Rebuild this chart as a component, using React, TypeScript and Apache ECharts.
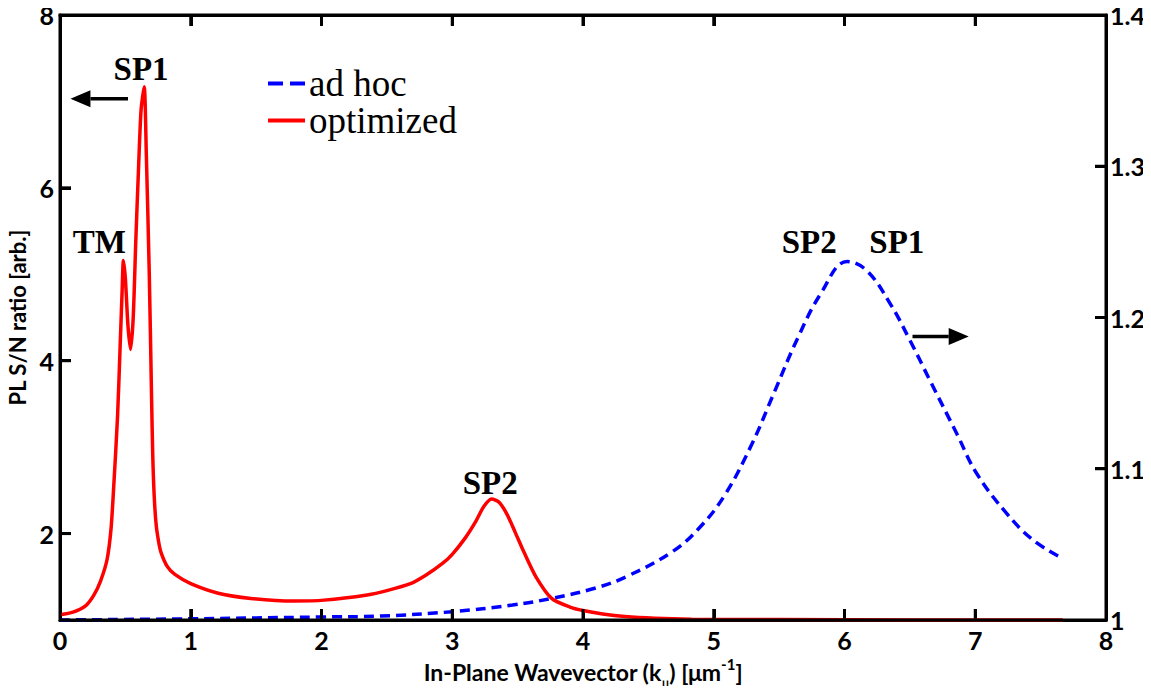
import React, { useEffect, useRef } from "react";
import * as echarts from "echarts";

// optimized (left axis) – in-plane wavevector k (µm^-1) and PL S/N ratio
const redK = [0, 0.1, 0.2, 0.26, 0.31, 0.36, 0.39, 0.41, 0.44, 0.46, 0.475, 0.485, 0.5, 0.52, 0.54, 0.56, 0.58, 0.6, 0.62, 0.644, 0.66, 0.683, 0.7, 0.709, 0.72, 0.735, 0.755, 0.773, 0.82, 0.876, 1.0, 1.21, 1.46, 1.79, 2.02, 2.35, 2.5, 2.68, 2.8, 2.93, 3.0, 3.1, 3.18, 3.24, 3.3, 3.36, 3.42, 3.48, 3.55, 3.64, 3.76, 3.9, 4.0, 4.15, 4.32, 4.55, 4.83, 5.5, 6.5, 7.67];
const redV = [1.06, 1.09, 1.17, 1.29, 1.45, 1.7, 2.05, 2.52, 3.35, 4.17, 4.8, 5.16, 4.95, 4.4, 4.13, 4.5, 5.4, 6.2, 6.9, 7.17, 6.4, 4.99, 3.6, 2.93, 2.45, 2.11, 1.9, 1.78, 1.62, 1.53, 1.42, 1.31, 1.25, 1.22, 1.23, 1.29, 1.34, 1.42, 1.52, 1.66, 1.76, 1.95, 2.14, 2.31, 2.4, 2.36, 2.22, 2.02, 1.78, 1.5, 1.25, 1.15, 1.11, 1.07, 1.04, 1.02, 1.01, 1.005, 1.0, 1.0];

// ad hoc (right axis)
const blueK = [0, 1, 2, 2.45, 3, 3.46, 3.76, 4.09, 4.34, 4.68, 4.88, 5.08, 5.29, 5.46, 5.64, 5.82, 6.02, 6.17, 6.35, 6.5, 6.65, 6.86, 7.01, 7.24, 7.44, 7.64];
const blueV = [1.0, 1.0008, 1.002, 1.0026, 1.0055, 1.0099, 1.0143, 1.021, 1.029, 1.045, 1.06, 1.082, 1.116, 1.15, 1.186, 1.216, 1.237, 1.231, 1.209, 1.185, 1.159, 1.123, 1.097, 1.0705, 1.053, 1.042];

// axis ticks
const xInnerTicks = [1, 2, 3, 4, 5, 6, 7];
const leftLabels = [2, 4, 6, 8];
const leftTicks = [2, 4, 6];
const rightTicks = [1.1, 1.2, 1.3];

const seriesNames = ["ad hoc", "optimized"];

// annotations (data coordinates on bottom / left axes)
const annotations = [
  { text: "SP1", k: 0.62, v: 7.38 },
  { text: "TM", k: 0.3, v: 5.37 },
  { text: "SP2", k: 3.29, v: 2.58 },
  { text: "SP2", k: 5.73, v: 5.37 },
  { text: "SP1", k: 6.4, v: 5.37 },
];
const arrows = [
  { fromK: 0.52, toK: 0.08, v: 7.03 },
  { fromK: 6.52, toK: 6.95, v: 4.28 },
];

const SANS = "Lato";
const SERIF = "Liberation Serif";

export default function App() {
  const ref = useRef<HTMLDivElement>(null);
  useEffect(() => {
    if (!ref.current) return;
    const chart = echarts.init(ref.current, null, { renderer: "svg" });
    const mkLine = () => ({ show: true, onZero: false, lineStyle: { color: "#000", width: 3 } });
    const mkTick = () => ({ show: true, inside: true, length: 11, lineStyle: { color: "#000", width: 3 } });
    const label = { color: "#000", fontFamily: SANS, fontWeight: "bold", fontSize: 25 };
    chart.setOption({
      animation: false,
      grid: { left: 60, right: 45, top: 15, bottom: 74, outerBoundsMode: "none" },
      legend: {
        orient: "vertical",
        left: 263,
        top: 60,
        itemWidth: 37,
        itemHeight: 4,
        itemGap: 0,
        textStyle: { fontFamily: SERIF, fontSize: 37, color: "#000", padding: [0, 0, 0, -1] },
        data: [
          { name: seriesNames[0], icon: "path://M0,0h15v4h-15z M22,0h15v4h-15z", itemStyle: { color: "#0000ff" } },
          { name: seriesNames[1], icon: "rect", itemStyle: { color: "#ff0000" } },
        ],
      },
      xAxis: [
        {
          type: "value",
          min: 0,
          max: 8,
          interval: 1,
          position: "bottom",
          axisLine: mkLine(),
          axisTick: mkTick(),
          splitLine: { show: false },
          axisLabel: { ...label, margin: 7 },
          name: "{a|In-Plane Wavevector (k}{sub|||}{a|) [μm}{sup|-1}{a|]}",
          nameLocation: "middle",
          nameGap: 29,
          nameTextStyle: {
            rich: {
              a: { fontFamily: SANS, fontWeight: "bold", fontSize: 23, color: "#000", lineHeight: 30, verticalAlign: "middle" },
              sub: { fontFamily: SANS, fontWeight: "bold", fontSize: 15, color: "#000", lineHeight: 30, verticalAlign: "bottom", padding: [0, 0, -7, 0] },
              sup: { fontFamily: SANS, fontWeight: "bold", fontSize: 15, color: "#000", lineHeight: 30, verticalAlign: "top", padding: [0, 0, 8, 0] },
            },
          },
        },
        {
          type: "value",
          min: 0,
          max: 8,
          interval: 1,
          position: "top",
          axisLine: mkLine(),
          axisTick: mkTick(),
          splitLine: { show: false },
          axisLabel: { show: false },
        },
      ],
      yAxis: [
        {
          type: "value",
          min: 1,
          max: 8,
          position: "left",
          axisLine: mkLine(),
          axisTick: { ...mkTick(), customValues: leftTicks },
          splitLine: { show: false },
          axisLabel: { ...label, margin: 6, customValues: leftLabels },
          name: "PL S/N ratio [arb.]",
          nameLocation: "middle",
          nameGap: 26,
          nameTextStyle: { fontFamily: SANS, fontWeight: "bold", fontSize: 22, color: "#000" },
        },
        {
          type: "value",
          min: 1,
          max: 1.4,
          interval: 0.1,
          position: "right",
          axisLine: mkLine(),
          axisTick: mkTick(),
          splitLine: { show: false },
          axisLabel: { ...label, margin: 4 },
        },
      ],
      series: [
        {
          name: seriesNames[0],
          type: "line",
          xAxisIndex: 0,
          yAxisIndex: 1,
          data: blueK.map((k, i) => [k, blueV[i]]),
          showSymbol: false,
          symbol: "none",
          smooth: 0.4,
          lineStyle: { color: "#0000ff", width: 3.5, type: [10, 6] },
          itemStyle: { color: "#0000ff" },
        },
        {
          name: seriesNames[1],
          type: "line",
          xAxisIndex: 0,
          yAxisIndex: 0,
          data: redK.map((k, i) => [k, redV[i]]),
          showSymbol: false,
          symbol: "none",
          smooth: 0.25,
          lineStyle: { color: "#ff0000", width: 3.5 },
          itemStyle: { color: "#ff0000" },
        },
      ],
    });

    const px = (k: number, v: number) =>
      chart.convertToPixel({ xAxisIndex: 0, yAxisIndex: 0 }, [k, v]) as number[];
    const pxR = (k: number, v: number) =>
      chart.convertToPixel({ xAxisIndex: 0, yAxisIndex: 1 }, [k, v]) as number[];
    const graphics: any[] = [];

    // frame and inward ticks, placed through the axes' own scales
    const [x0, yB] = px(0, 1);
    const [x8, yT] = px(8, 8);
    const tickStyle = { stroke: "#000", lineWidth: 3 };
    const TL = 11;
    graphics.push({
      type: "rect",
      z: 50,
      shape: { x: x0, y: yT, width: x8 - x0, height: yB - yT },
      style: { fill: "none", stroke: "#000", lineWidth: 3 },
    });
    xInnerTicks.forEach((k) => {
      const [x] = px(k, 1);
      graphics.push({ type: "line", z: 50, shape: { x1: x, y1: yB, x2: x, y2: yB - TL }, style: tickStyle });
      graphics.push({ type: "line", z: 50, shape: { x1: x, y1: yT, x2: x, y2: yT + TL }, style: tickStyle });
    });
    leftTicks.forEach((v) => {
      const [, y] = px(0, v);
      graphics.push({ type: "line", z: 50, shape: { x1: x0, y1: y, x2: x0 + TL, y2: y }, style: tickStyle });
    });
    rightTicks.forEach((v) => {
      const [, y] = pxR(8, v);
      graphics.push({ type: "line", z: 50, shape: { x1: x8, y1: y, x2: x8 - TL, y2: y }, style: tickStyle });
    });

    annotations.forEach((a) => {
      const [x, y] = px(a.k, a.v);
      graphics.push({
        type: "text",
        x,
        y,
        style: {
          text: a.text,
          fontFamily: SERIF,
          fontWeight: "bold",
          fontSize: 33,
          fill: "#000",
          align: "center",
          verticalAlign: "middle",
        },
      });
    });
    arrows.forEach((a) => {
      const [x1, y] = px(a.fromK, a.v);
      const [x2] = px(a.toK, a.v);
      const dir = x2 > x1 ? 1 : -1;
      const headLen = 20;
      const half = 8.5;
      graphics.push({
        type: "line",
        shape: { x1, y1: y, x2: x2 - dir * headLen, y2: y },
        style: { stroke: "#000", lineWidth: 3.5 },
      });
      graphics.push({
        type: "polygon",
        shape: { points: [[x2, y], [x2 - dir * headLen, y - half], [x2 - dir * headLen, y + half]] },
        style: { fill: "#000" },
      });
    });
    chart.setOption({ graphic: graphics });

    return () => chart.dispose();
  }, []);
  return <div ref={ref} style={{ width: 1151, height: 694, margin: -8 }} />;
}
